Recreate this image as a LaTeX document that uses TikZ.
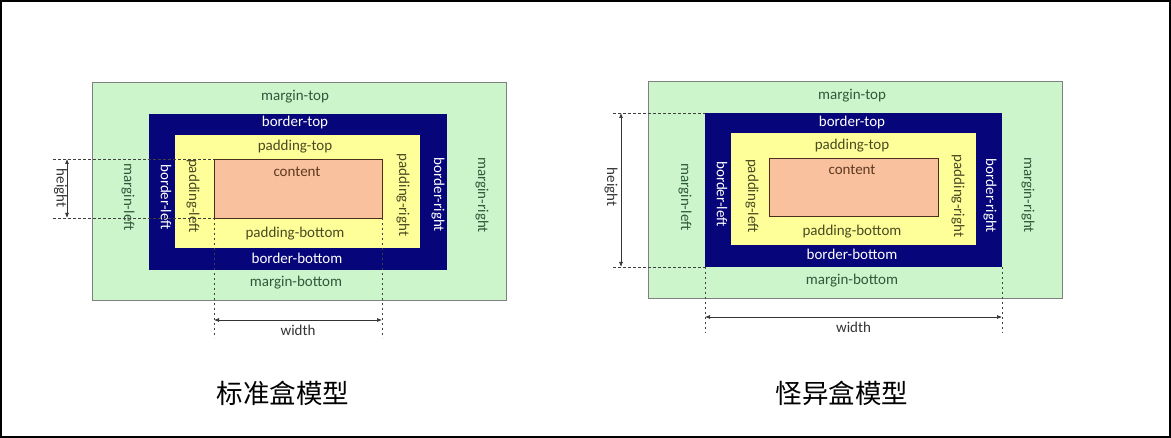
\documentclass[tikz,border=0pt]{standalone}
\usepackage{fontspec}
\setmainfont{Carlito}
\newfontfamily\cjk{Noto Sans CJK SC}
\usetikzlibrary{arrows.meta}

\definecolor{marginfill}{HTML}{CCF5CC}
\definecolor{margintext}{HTML}{2F5A3A}
\definecolor{borderfill}{HTML}{06067A}
\definecolor{paddingfill}{HTML}{FFFF99}
\definecolor{paddingtext}{HTML}{4A4A22}
\definecolor{contentfill}{HTML}{F9C19D}
\definecolor{contenttext}{HTML}{5E3A22}

\begin{document}
\begin{tikzpicture}[x=1pt, y=-1pt,
  marginbox/.style={draw=gray, line width=0.8pt, fill=marginfill, inner sep=0, outer sep=0},
  borderbox/.style={fill=borderfill, inner sep=0, outer sep=0},
  paddingbox/.style={fill=paddingfill, inner sep=0, outer sep=0},
  contentbox/.style={draw=contenttext!80!black, line width=0.8pt, fill=contentfill, inner sep=0, outer sep=0},
  lbl/.style={font=\fontsize{15}{15}\selectfont, inner sep=0},
  dimline/.style={dash pattern=on 2.5pt off 2.5pt, line width=0.7pt, black!75},
  dimarrow/.style={{Latex[length=5pt,width=4pt]}-{Latex[length=5pt,width=4pt]}, line width=0.7pt, black!80},
  title/.style={font=\cjk\fontsize{26.5}{26.5}\selectfont, inner sep=0}]

  % The frame
  \useasboundingbox (0,0) rectangle (1171,438);
  \draw[line width=1.5pt] (1,1) rectangle (1170,437);

  % The standard box model
  \node[marginbox, minimum width=414pt, minimum height=218pt] (lmargin) at (299,191) {};
  \node[borderbox, minimum width=298pt, minimum height=156pt] (lborder) at (298,192) {};
  \node[paddingbox, minimum width=245pt, minimum height=113pt] (lpadding) at (297.5,191.5) {};
  \node[contentbox, minimum width=168pt, minimum height=59pt] (lcontent) at (298,188.5) {};

  \node[lbl, margintext] (lmt) at (295,97) {margin-top};
  \node[lbl, white] (lbt) at (295,123) {border-top};
  \node[lbl, paddingtext] (lpt) at (295,147) {padding-top};
  \node[lbl, contenttext] (lct) at (297,172) {content};
  \node[lbl, paddingtext] (lpb) at (295,234) {padding-bottom};
  \node[lbl, white] (lbb) at (297,258) {border-bottom};
  \node[lbl, margintext] (lmb) at (296,283) {margin-bottom};
  \node[lbl, margintext, rotate=-90] (lml) at (128,197) {margin-left};
  \node[lbl, white, rotate=-90] (lbl) at (166,197) {border-left};
  \node[lbl, paddingtext, rotate=-90] (lpl) at (193,196) {padding-left};
  \node[lbl, paddingtext, rotate=-90] (lpr) at (403,195) {padding-right};
  \node[lbl, white, rotate=-90] (lbr) at (438,195) {border-right};
  \node[lbl, margintext, rotate=-90] (lmr) at (482,195) {margin-right};

  % The height and width of the content
  \coordinate (lhx) at (53,0);
  \coordinate (lwy) at (0,338);
  \draw[dimline] (lcontent.north west -| lhx) -- (lcontent.north west);
  \draw[dimline] (lcontent.south west -| lhx) -- (lcontent.south west);
  \draw[dimarrow] (67,159) -- (67,218);
  \node[lbl, black!80, rotate=-90] (lh) at (60.5,188) {height};
  \draw[dimline] (lcontent.south west) -- (lcontent.south west |- lwy);
  \draw[dimline] (lcontent.south east) -- (lcontent.south east |- lwy);
  \draw[dimarrow] (214,320) -- (382,320);
  \node[lbl, black!80] (lw) at (298,330) {width};

  \node[title] (ltitle) at (283,393) {标准盒模型};

  % The quirks box model
  \node[marginbox, minimum width=414pt, minimum height=217pt] (rmargin) at (855,189.5) {};
  \node[borderbox, minimum width=297pt, minimum height=154pt] (rborder) at (853.5,190) {};
  \node[paddingbox, minimum width=245pt, minimum height=112pt] (rpadding) at (853.5,189) {};
  \node[contentbox, minimum width=169pt, minimum height=58pt] (rcontent) at (853.5,187) {};

  \node[lbl, margintext] (rmt) at (852,96) {margin-top};
  \node[lbl, white] (rbt) at (852,123) {border-top};
  \node[lbl, paddingtext] (rpt) at (852,146) {padding-top};
  \node[lbl, contenttext] (rct) at (852,170) {content};
  \node[lbl, paddingtext] (rpb) at (852,232) {padding-bottom};
  \node[lbl, white] (rbb) at (852,254) {border-bottom};
  \node[lbl, margintext] (rmb) at (852,281) {margin-bottom};
  \node[lbl, margintext, rotate=-90] (rml) at (685,197) {margin-left};
  \node[lbl, white, rotate=-90] (rbl) at (722,194) {border-left};
  \node[lbl, paddingtext, rotate=-90] (rpl) at (752,196) {padding-left};
  \node[lbl, paddingtext, rotate=-90] (rpr) at (958,196) {padding-right};
  \node[lbl, white, rotate=-90] (rbr) at (990,196) {border-right};
  \node[lbl, margintext, rotate=-90] (rmr) at (1028,195) {margin-right};

  % The height and width of the border box
  \coordinate (rhx) at (613,0);
  \coordinate (rwy) at (0,333);
  \draw[dimline] (rborder.north west -| rhx) -- (rborder.north west);
  \draw[dimline] (rborder.south west -| rhx) -- (rborder.south west);
  \draw[dimarrow] (621,113) -- (621,267);
  \node[lbl, black!80, rotate=-90] (rh) at (611,187) {height};
  \draw[dimline] (rborder.south west) -- (rborder.south west |- rwy);
  \draw[dimline] (rborder.south east) -- (rborder.south east |- rwy);
  \draw[dimarrow] (705,317) -- (1002,317);
  \node[lbl, black!80] (rw) at (853.5,327) {width};

  \node[title] (rtitle) at (842,393) {怪异盒模型};

\end{tikzpicture}
\end{document}
